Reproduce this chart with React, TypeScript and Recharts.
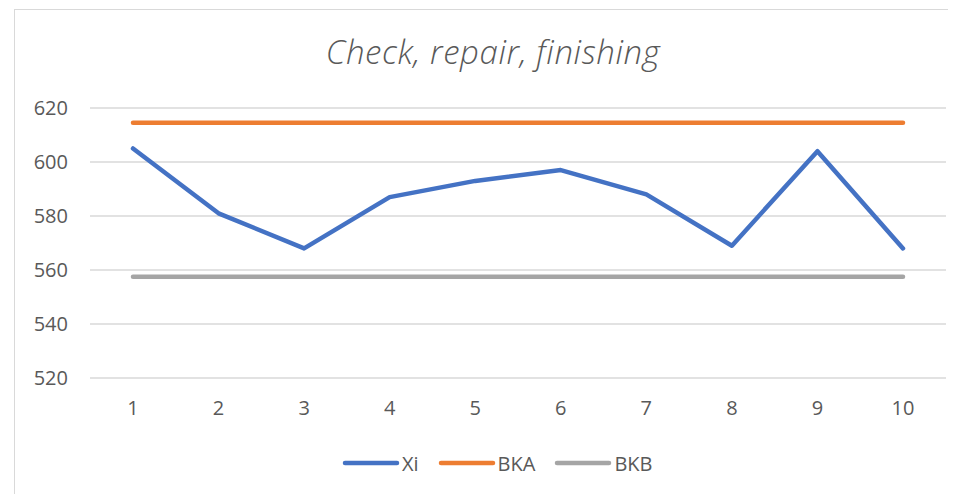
import { LineChart, Line, XAxis, YAxis, CartesianGrid, Legend } from "recharts"

const categories = ["1", "2", "3", "4", "5", "6", "7", "8", "9", "10"]
const xi = [605, 581, 568, 587, 593, 597, 588, 569, 604, 568]
const bka = [614.5, 614.5, 614.5, 614.5, 614.5, 614.5, 614.5, 614.5, 614.5, 614.5]
const bkb = [557.5, 557.5, 557.5, 557.5, 557.5, 557.5, 557.5, 557.5, 557.5, 557.5]
const yTicks = [520, 540, 560, 580, 600, 620]

const series = [
  { key: "Xi", color: "#4472C4" },
  { key: "BKA", color: "#ED7D31" },
  { key: "BKB", color: "#A5A5A5" },
]

const data = categories.map((c, i) => ({ name: c, Xi: xi[i], BKA: bka[i], BKB: bkb[i] }))

const font = "'Open Sans', sans-serif"
const textColor = "#595959"

function LegendContent() {
  return (
    <div style={{ display: "flex", alignItems: "center", height: 24, paddingLeft: 327, fontFamily: font, fontSize: 20, color: textColor }}>
      {series.map((s) => (
        <div key={s.key} style={{ display: "flex", alignItems: "center", marginRight: 19 }}>
          <svg width={58} height={8} style={{ display: "block" }}>
            <line x1={3} y1={4} x2={55} y2={4} stroke={s.color} strokeWidth={4.5} strokeLinecap="round" />
          </svg>
          <span style={{ marginLeft: 2 }}>{s.key}</span>
        </div>
      ))}
    </div>
  )
}

export default function App() {
  return (
    <div
      style={{
        position: "relative",
        left: 6,
        top: 1,
        width: 941,
        height: 485,
        borderTop: "1px solid #d9d9d9",
        borderLeft: "1px solid #d9d9d9",
        background: "#fff",
        fontFamily: font,
      }}
    >
      <div
        style={{
          position: "absolute",
          left: 0,
          width: 956,
          top: 21,
          textAlign: "center",
          fontSize: 33,
          fontStyle: "italic",
          fontWeight: 300,
          letterSpacing: 0.6,
          color: textColor,
          lineHeight: "42px",
        }}
      >
        Check, repair, finishing
      </div>
      <LineChart width={941} height={485} data={data} margin={{ top: 98, right: 10, bottom: 20, left: 0 }}>
        <CartesianGrid vertical={false} stroke="#d9d9d9" strokeWidth={1.3} />
        <XAxis
          dataKey="name"
          axisLine={false}
          tickLine={false}
          tickSize={0}
          tickMargin={23}
          height={73}
          padding={{ left: 43, right: 43 }}
          tick={{ fill: textColor, fontSize: 20, fontFamily: font }}
        />
        <YAxis
          domain={[520, 620]}
          ticks={yTicks}
          axisLine={false}
          tickLine={false}
          tickSize={0}
          tickMargin={22}
          width={75}
          tick={{ fill: textColor, fontSize: 20, fontFamily: font }}
        />
        <Legend verticalAlign="bottom" height={24} wrapperStyle={{ left: 0, width: 941 }} content={<LegendContent />} />
        {series.map((s) => (
          <Line
            key={s.key}
            dataKey={s.key}
            stroke={s.color}
            strokeWidth={4.5}
            strokeLinecap="round"
            strokeLinejoin="round"
            dot={false}
            activeDot={false}
            isAnimationActive={false}
          />
        ))}
      </LineChart>
    </div>
  )
}
